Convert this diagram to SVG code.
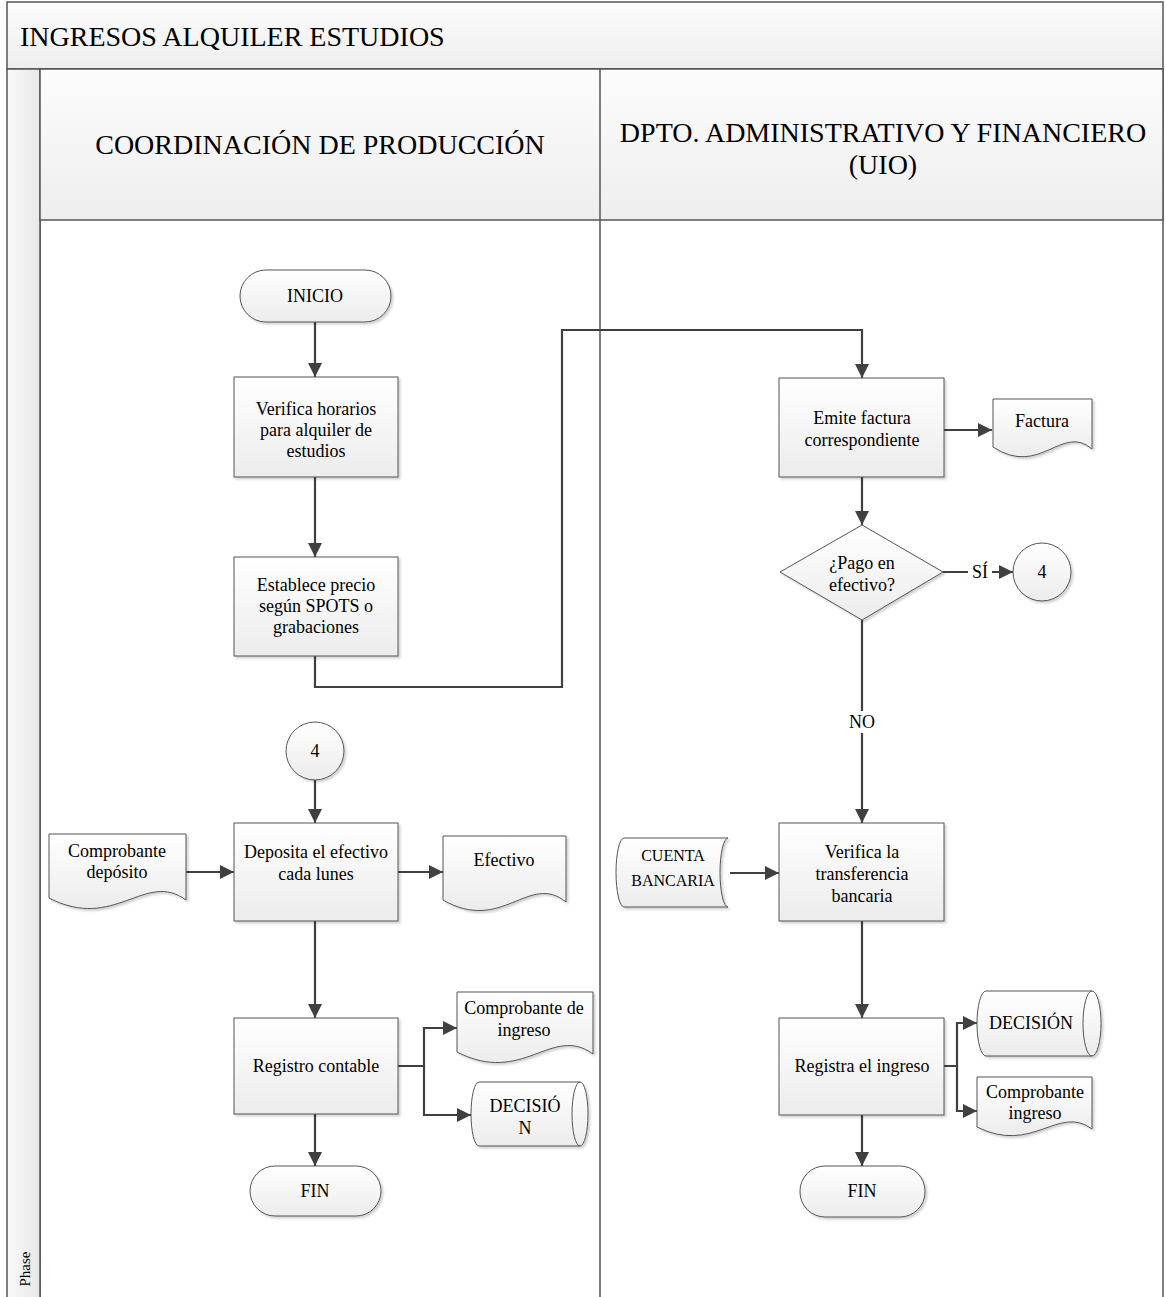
<svg xmlns="http://www.w3.org/2000/svg" width="1166" height="1297" viewBox="0 0 1166 1297">
<style>
.frame{fill:url(#hdr);stroke:#555;stroke-width:1.5}
.body{fill:#fff;stroke:#555;stroke-width:1.5}
.shape{fill:url(#nodeG);stroke:#555;stroke-width:1;filter:url(#sh)}
.line{fill:none;stroke:#555;stroke-width:1}
.conn{fill:none;stroke:#404040;stroke-width:2.2}
.arr{marker-end:url(#ah)}
text{font-family:"Liberation Serif","Times New Roman",serif;fill:#000;text-anchor:middle}
.t{font-size:18px}
.s{font-size:16px}
.h{font-size:28px}
</style>
<defs>
<linearGradient id="hdr" x1="0" y1="0" x2="0" y2="1"><stop offset="0" stop-color="#fcfcfc"/><stop offset="1" stop-color="#eeeeee"/></linearGradient>
<linearGradient id="strip" x1="0" y1="0" x2="1" y2="0"><stop offset="0" stop-color="#fafafa"/><stop offset="1" stop-color="#e8e8e8"/></linearGradient>
<linearGradient id="nodeG" x1="0" y1="0" x2="0" y2="1"><stop offset="0" stop-color="#ffffff"/><stop offset="1" stop-color="#ececec"/></linearGradient>
<filter id="sh" x="-10%" y="-10%" width="130%" height="130%"><feDropShadow dx="2" dy="2" stdDeviation="1.2" flood-color="#000" flood-opacity="0.18"/></filter>
<marker id="ah" viewBox="0 0 14 14" refX="14" refY="7" markerWidth="14" markerHeight="14" orient="auto" markerUnits="userSpaceOnUse"><path d="M0,0 L14,7 L0,14 z" fill="#404040"/></marker>
</defs>

<g id="pool">
<rect class="frame" x="7" y="2" width="1156" height="67"/>
<text class="h" x="20" y="46" style="text-anchor:start">INGRESOS ALQUILER ESTUDIOS</text>
<rect class="body" x="40" y="69" width="1123" height="1240"/>
<rect x="7" y="69" width="33" height="1240" fill="url(#strip)" stroke="#555" stroke-width="1.5"/>
<text x="30" y="1269" font-size="15" transform="rotate(-90 30 1269)">Phase</text>
<rect class="frame" x="40" y="69" width="1123" height="151"/>
<line x1="600" y1="69" x2="600" y2="1300" stroke="#555" stroke-width="1.5"/>
<text class="h" x="320" y="154">COORDINACIÓN DE PRODUCCIÓN</text>
<text class="h" x="883" y="142">DPTO. ADMINISTRATIVO Y FINANCIERO</text>
<text class="h" x="883" y="174">(UIO)</text>
</g>

<g id="connectors">
<path class="conn arr" d="M315,322 V377"/>
<path class="conn arr" d="M315,477 V557"/>
<path class="conn arr" d="M315,656 V687 H562 V330 H862 V378"/>
<path class="conn arr" d="M944,430 H992"/>
<path class="conn arr" d="M862,477 V525"/>
<path class="conn arr" d="M943,572 H1013"/>
<path class="conn arr" d="M862,620 V823"/>
<path class="conn arr" d="M315,780 V823"/>
<path class="conn arr" d="M186,872 H234"/>
<path class="conn arr" d="M398,872 H443"/>
<path class="conn arr" d="M315,921 V1018"/>
<path class="conn arr" d="M398,1066 H424 V1028 H457"/>
<path class="conn arr" d="M424,1066 V1115 H471"/>
<path class="conn arr" d="M315,1114 V1166"/>
<path class="conn arr" d="M730,873 H779"/>
<path class="conn arr" d="M862,921 V1018"/>
<path class="conn arr" d="M944,1066 H957 V1023 H977"/>
<path class="conn arr" d="M957,1066 V1111 H977"/>
<path class="conn arr" d="M862,1115 V1166"/>
<rect x="968" y="561" width="24" height="22" fill="#fff"/>
<text class="t" x="980" y="578">SÍ</text>
<rect x="846" y="711" width="32" height="22" fill="#fff"/>
<text class="t" x="862" y="728">NO</text>
</g>

<g id="inicio">
<rect class="shape" x="240" y="270" width="151" height="52" rx="26" ry="26"/>
<text class="t" x="315" y="302">INICIO</text>
</g>
<g id="verifica-horarios">
<rect class="shape" x="234" y="377" width="164" height="100"/>
<text class="t" x="316" y="415">Verifica horarios</text>
<text class="t" x="316" y="436">para alquiler de</text>
<text class="t" x="316" y="457">estudios</text>
</g>
<g id="establece-precio">
<rect class="shape" x="234" y="557" width="164" height="99"/>
<text class="t" x="316" y="591">Establece precio</text>
<text class="t" x="316" y="612">según SPOTS o</text>
<text class="t" x="316" y="633">grabaciones</text>
</g>
<g id="emite-factura">
<rect class="shape" x="779" y="378" width="165" height="99"/>
<text class="t" x="862" y="424">Emite factura</text>
<text class="t" x="862" y="446">correspondiente</text>
</g>
<g id="factura">
<path class="shape" d="M993,399 H1092 V449 C1062,423 1040,478 993,447 Z"/>
<text class="t" x="1042" y="427">Factura</text>
</g>
<g id="decision-pago">
<path class="shape" d="M862,525 L943,572 L862,620 L780,572 Z"/>
<text class="t" x="862" y="569">¿Pago en</text>
<text class="t" x="862" y="591">efectivo?</text>
</g>
<g id="conector-4-der">
<circle class="shape" cx="1042" cy="572" r="29"/>
<text class="t" x="1042" y="578">4</text>
</g>
<g id="conector-4-izq">
<circle class="shape" cx="315" cy="751" r="29"/>
<text class="t" x="315" y="757">4</text>
</g>
<g id="comprobante-deposito">
<path class="shape" d="M49,834 H186 V900 C145,870 115,932 49,898 Z"/>
<text class="t" x="117" y="857">Comprobante</text>
<text class="t" x="117" y="878">depósito</text>
</g>
<g id="deposita">
<rect class="shape" x="234" y="823" width="164" height="98"/>
<text class="t" x="316" y="858">Deposita el efectivo</text>
<text class="t" x="316" y="880">cada lunes</text>
</g>
<g id="efectivo">
<path class="shape" d="M443,836 H566 V902 C529,872 502,934 443,900 Z"/>
<text class="t" x="504" y="866">Efectivo</text>
</g>
<g id="registro-contable">
<rect class="shape" x="234" y="1018" width="164" height="96"/>
<text class="t" x="316" y="1072">Registro contable</text>
</g>
<g id="comprobante-de-ingreso">
<path class="shape" d="M457,992 H593 V1054 C552,1024 523,1086 457,1052 Z"/>
<text class="t" x="524" y="1014">Comprobante de</text>
<text class="t" x="524" y="1036">ingreso</text>
</g>
<g id="decision-izq">
<path class="shape" d="M479,1082 H580 A8,32 0 0 1 580,1146 H479 A8,32 0 0 1 479,1082 Z"/>
<path class="line" d="M580,1082 A8,32 0 0 0 580,1146"/>
<text class="t" x="525" y="1112">DECISIÓ</text>
<text class="t" x="525" y="1134">N</text>
</g>
<g id="fin-izq">
<rect class="shape" x="250" y="1166" width="131" height="50" rx="25" ry="25"/>
<text class="t" x="315" y="1197">FIN</text>
</g>
<g id="cuenta-bancaria">
<path class="shape" d="M624,838 H728 A8,34.5 0 0 0 728,907 H624 A8,34.5 0 0 1 624,838 Z"/>
<text class="s" x="673" y="861">CUENTA</text>
<text class="s" x="673" y="886">BANCARIA</text>
</g>
<g id="verifica-transferencia">
<rect class="shape" x="779" y="823" width="165" height="98"/>
<text class="t" x="862" y="858">Verifica la</text>
<text class="t" x="862" y="880">transferencia</text>
<text class="t" x="862" y="902">bancaria</text>
</g>
<g id="registra-ingreso">
<rect class="shape" x="779" y="1018" width="165" height="97"/>
<text class="t" x="862" y="1072">Registra el ingreso</text>
</g>
<g id="decision-der">
<path class="shape" d="M986,991 H1092 A9,32.5 0 0 1 1092,1056 H986 A9,32.5 0 0 1 986,991 Z"/>
<path class="line" d="M1092,991 A9,32.5 0 0 0 1092,1056"/>
<text class="t" x="1031" y="1029">DECISIÓN</text>
</g>
<g id="comprobante-ingreso">
<path class="shape" d="M977,1077 H1092 V1129 C1058,1104 1033,1155 977,1127 Z"/>
<text class="t" x="1035" y="1098">Comprobante</text>
<text class="t" x="1035" y="1119">ingreso</text>
</g>
<g id="fin-der">
<rect class="shape" x="800" y="1166" width="125" height="51" rx="25" ry="25"/>
<text class="t" x="862" y="1197">FIN</text>
</g>
</svg>
